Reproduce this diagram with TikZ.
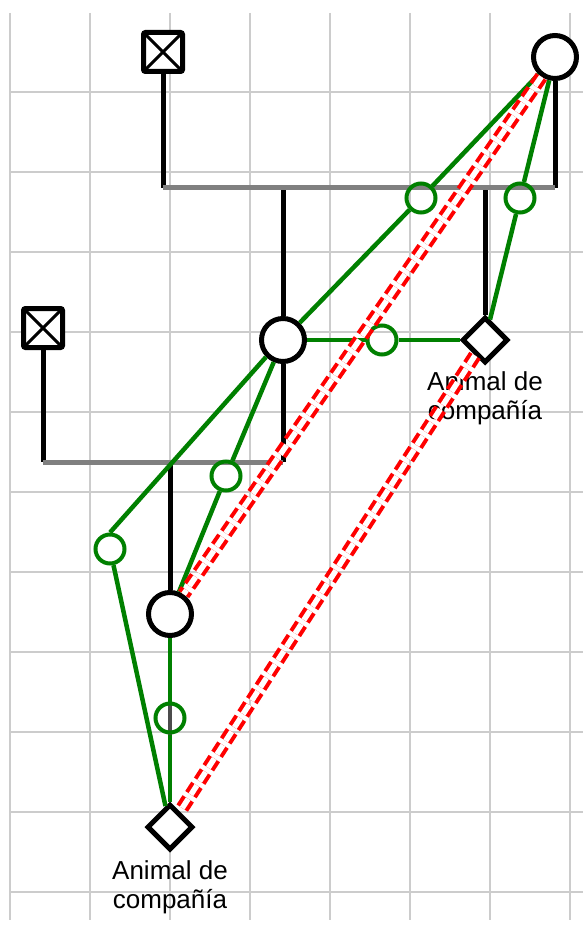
\documentclass[tikz,border=0pt]{standalone}
\usepackage{fontspec}
\setmainfont{Liberation Sans}
\usetikzlibrary{shapes.geometric, positioning}
\definecolor{relgreen}{RGB}{0,128,0}
\definecolor{bargray}{RGB}{128,128,128}
\tikzstyle{male} = [rectangle, draw=black, line width=5pt, rounded corners=2pt, minimum size=39pt, inner sep=0pt, fill=white, path picture={\draw[line width=3pt, sharp corners] (path picture bounding box.north west) -- (path picture bounding box.south east) (path picture bounding box.south west) -- (path picture bounding box.north east);}]
\tikzstyle{female} = [circle, draw=black, line width=5pt, minimum size=43pt, inner sep=0pt, fill=white]
\tikzstyle{pet} = [diamond, draw=black, line width=5pt, minimum size=46pt, inner sep=0pt, fill=white]
\tikzstyle{bond} = [circle, draw=relgreen, line width=4pt, minimum size=29pt, inner sep=0pt]
\tikzstyle{petname} = [align=center, font=\fontsize{26}{29}\selectfont]
\tikzstyle{pedline} = [line width=5pt, black]
\tikzstyle{sibbar} = [line width=5pt, bargray]
\tikzstyle{closeline} = [line width=4.5pt, relgreen]
\tikzstyle{hostile} = [line width=4pt, red, double=white, double distance=5.5pt, dash pattern=on 11pt off 5pt]
\tikzstyle{gridline} = [line width=1.8pt, black!20]

\begin{document}
\begin{tikzpicture}[x=1pt, y=-1pt]
    \useasboundingbox [fill=white] (0,0) rectangle (583,933);
    \foreach \gx in {10,90,...,570} \draw [gridline] (\gx,13) -- (\gx,920);
    \foreach \gy in {92,172,...,892} \draw [gridline] (10,\gy) -- (583,\gy);

    \node (grandpa) [male] at (163,52) {};
    \node (grandma) [female] at (555,57) {};
    \node (mother) [female] at (283,340) {};
    \node (pet1) [pet, right of=mother, node distance=202pt] {};
    \node (father) [male] at (43,328) {};
    \node (child) [female] at (170,614) {};
    \node (pet2) [pet] at (170,827) {};
    \node (name1) [petname, below of=pet1, node distance=58pt] {Animal de\\compañía};
    \node (name2) [petname, below of=pet2, node distance=60pt] {Animal de\\compañía};

    \coordinate (bar1w) at (163,188);
    \coordinate (bar1e) at (555,188);
    \coordinate (bar2w) at (43,462);
    \coordinate (bar2e) at (283,462);
    \draw [pedline] (grandpa) -- (bar1w);
    \draw [pedline] (grandma) -- (bar1e);
    \draw [pedline] (mother) -- (mother |- bar1w);
    \draw [pedline] (pet1) -- (pet1 |- bar1w);
    \draw [pedline] (father) -- (bar2w);
    \draw [pedline] (mother) -- (bar2e);
    \draw [pedline] (child) -- (child |- bar2w);
    \draw [sibbar] (bar1w) -- (bar1e);
    \draw [sibbar] (bar2w) -- (bar2e);
    \draw [line width=3.5pt, black!70] (child) -- (pet2);

    \node (e1) [bond] at (421,198) {};
    \node (e2) [bond] at (520,198) {};
    \node (e3) [bond] at (382,340) {};
    \node (e4) [bond] at (226,476) {};
    \node (e5) [bond] at (170,718) {};
    \node (e6) [bond] at (110,549) {};

    \draw [closeline] (grandma) -- (e1) -- (mother);
    \draw [closeline] (grandma) -- (e2) -- (pet1);
    \draw [closeline] (mother) -- (e3) -- (pet1);
    \draw [closeline] (mother) -- (e4) -- (child);
    \draw [closeline] (child) -- (e5) -- (pet2);
    \draw [closeline] (mother.225) -- (e6.north);
    \draw [closeline] (e6) -- (pet2);

    \draw [hostile] (grandma) -- (child);
    \draw [hostile] (pet1) -- (pet2);
\end{tikzpicture}
\end{document}
